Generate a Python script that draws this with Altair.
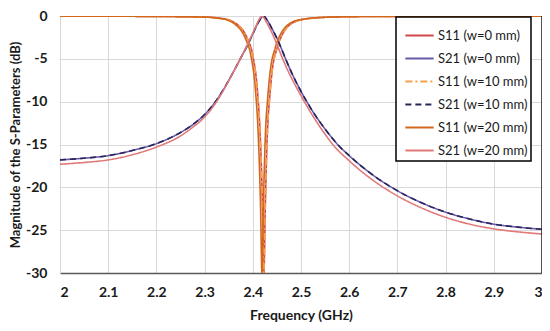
import altair as alt
import pandas as pd

# ---- data ----
s11_w0_f = [2.00, 2.10, 2.20, 2.30, 2.33, 2.35, 2.37, 2.38, 2.39, 2.40, 2.41, 2.415, 2.42, 2.423,
            2.426, 2.43, 2.435, 2.44, 2.45, 2.46, 2.47, 2.48, 2.50, 2.55, 2.60, 2.70, 2.80, 3.00]
s11_w0_db = [-0.02, -0.03, -0.05, -0.12, -0.25, -0.45, -1.1, -1.7, -2.8, -4.6, -9.0, -13.5, -22.0, -30.0,
             -22.0, -14.0, -9.5, -6.5, -3.8, -2.3, -1.4, -0.9, -0.45, -0.15, -0.08, -0.04, -0.02, -0.01]

s11_w20_f = [2.00, 2.10, 2.20, 2.30, 2.326, 2.346, 2.366, 2.376, 2.386, 2.396, 2.406, 2.411, 2.416, 2.419,
             2.422, 2.426, 2.431, 2.436, 2.446, 2.456, 2.466, 2.476, 2.496, 2.55, 2.60, 2.70, 2.80, 3.00]
s11_w20_db = [-0.02, -0.03, -0.05, -0.13, -0.25, -0.45, -1.1, -1.7, -2.8, -4.6, -9.0, -13.5, -22.0, -30.0,
              -22.0, -14.0, -9.5, -6.5, -3.8, -2.3, -1.4, -0.9, -0.45, -0.15, -0.08, -0.04, -0.02, -0.01]

s21_w0_f = [2.00, 2.05, 2.10, 2.15, 2.20, 2.25, 2.275, 2.30, 2.32, 2.34, 2.36, 2.375, 2.39, 2.40, 2.41,
            2.416, 2.422, 2.43, 2.44, 2.45, 2.46, 2.468, 2.48, 2.50, 2.511, 2.525, 2.55, 2.576, 2.60,
            2.65, 2.70, 2.75, 2.80, 2.85, 2.90, 2.95, 3.00]
s21_w0_db = [-16.8, -16.6, -16.3, -15.7, -14.9, -13.6, -12.7, -11.5, -10.2, -8.5, -6.5, -4.9, -3.3, -2.1, -0.9,
             -0.35, 0.0, -0.5, -1.5, -2.6, -3.9, -5.0, -6.55, -8.8, -9.9, -11.2, -13.2, -15.0, -16.3,
             -18.6, -20.4, -21.8, -22.9, -23.7, -24.3, -24.65, -24.9]

s21_w20_f = [2.00, 2.05, 2.10, 2.15, 2.20, 2.25, 2.275, 2.30, 2.32, 2.34, 2.36, 2.375, 2.39, 2.40, 2.41,
             2.414, 2.419, 2.424, 2.43, 2.44, 2.45, 2.462, 2.48, 2.50, 2.507, 2.525, 2.55, 2.566, 2.60,
             2.65, 2.70, 2.75, 2.80, 2.85, 2.90, 2.95, 3.00]
s21_w20_db = [-17.3, -17.1, -16.8, -16.2, -15.3, -14.0, -13.0, -11.8, -10.4, -8.6, -6.5, -4.9, -3.2, -2.0, -0.75,
              -0.3, 0.0, -0.3, -0.9, -2.0, -3.3, -5.0, -7.2, -9.3, -10.0, -11.7, -13.8, -15.0, -16.9,
              -19.2, -21.0, -22.4, -23.5, -24.3, -24.85, -25.2, -25.45]

series_names = ["S11 (w=0 mm)", "S21 (w=0 mm)", "S11 (w=10 mm)", "S21 (w=10 mm)", "S11 (w=20 mm)", "S21 (w=20 mm)"]
series_colors = ["#D0474A", "#6A58A8", "#F5A050", "#262659", "#D2661A", "#E07A78"]
series_dash = [[1, 0], [1, 0], [7, 3, 2, 3], [6, 4], [1, 0], [1, 0]]

series_data = [
    (s11_w0_f, s11_w0_db),
    (s21_w0_f, s21_w0_db),
    (s11_w0_f, s11_w0_db),
    (s21_w0_f, s21_w0_db),
    (s11_w20_f, s11_w20_db),
    (s21_w20_f, s21_w20_db),
]

rows = []
for i, (name, (fs, dbs)) in enumerate(zip(series_names, series_data)):
    for f, d in zip(fs, dbs):
        rows.append({"series": name, "f": f, "db": d, "k": i})
df = pd.DataFrame(rows)

x_ticks = [2.0, 2.1, 2.2, 2.3, 2.4, 2.5, 2.6, 2.7, 2.8, 2.9, 3.0]
y_ticks = [0, -5, -10, -15, -20, -25, -30]

FONT = "Lato"

lines = alt.Chart(df).mark_line(strokeWidth=1.6, clip=True, interpolate="monotone").encode(
    x=alt.X("f:Q", scale=alt.Scale(domain=[2, 3], nice=False),
            axis=alt.Axis(values=x_ticks, format="~g", title="Frequency (GHz)",
                          domainColor="#595959", domainWidth=1.5, tickSize=0,
                          labelPadding=12, titlePadding=9, gridColor="#D9D9D9")),
    y=alt.Y("db:Q", scale=alt.Scale(domain=[-30, 0], nice=False),
            axis=alt.Axis(values=y_ticks, labelExpr="'' + datum.value",
                          title="Magnitude of the S-Parameters (dB)", titleFontSize=13,
                          domainColor="#D9D9D9", tickSize=0, labelPadding=13, titlePadding=3,
                          gridColor="#D9D9D9")),
    color=alt.Color("series:N", scale=alt.Scale(domain=series_names, range=series_colors),
                    legend=alt.Legend(title=None, orient="none", legendX=336, legendY=1)),
    strokeDash=alt.StrokeDash("series:N", scale=alt.Scale(domain=series_names, range=series_dash),
                              legend=alt.Legend(title=None, orient="none", legendX=336, legendY=1)),
    detail="k:O",
    order="k:O",
)

frame = alt.Chart(pd.DataFrame({"f": [3.0]})).mark_rule(color="#1a1a1a", strokeWidth=1.5).encode(
    x="f:Q"
)

chart = alt.layer(lines, frame).properties(
    width=482, height=257,
    autosize=alt.AutoSizeParams(type="none"),
    padding={"left": 52, "top": 8, "right": 0, "bottom": 50},
).configure_view(stroke=None).configure_axis(
    labelFont=FONT, titleFont=FONT, labelFontSize=14, labelFontWeight="bold",
    titleFontSize=14, titleFontWeight="bold", labelColor="#1a1a1a", titleColor="#1a1a1a",
).configure_legend(
    labelFont=FONT, labelFontSize=13, labelColor="#1a1a1a",
    strokeColor="#000000", strokeWidth=1.5, fillColor="white", padding=3,
    symbolType="stroke", symbolSize=800, symbolStrokeWidth=1.8, rowPadding=0,
    symbolOffset=5, labelOffset=3,
)

chart.save("out.html", embed_options={"renderer": "svg", "actions": False})
